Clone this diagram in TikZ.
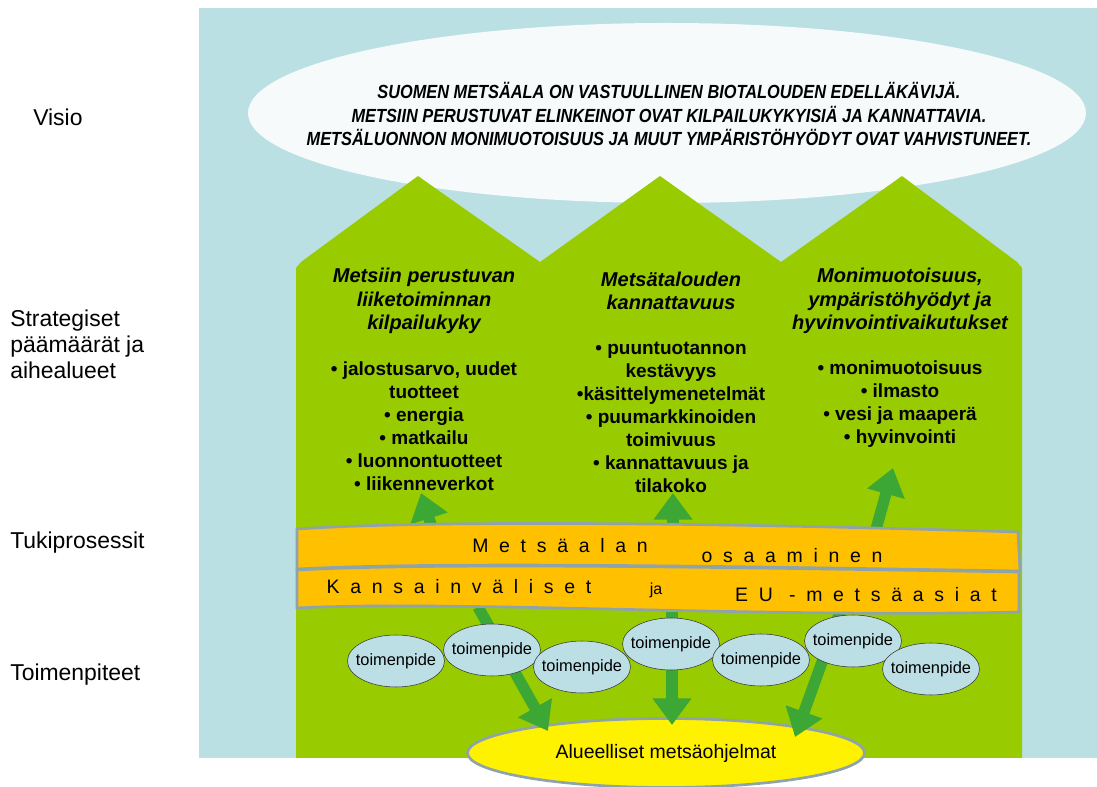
\documentclass[tikz,border=0pt]{standalone}
\usepackage{fontspec}
\setmainfont{Liberation Sans}
\newfontfamily\visiofont[FakeStretch=0.86]{Liberation Sans}
\newfontfamily\bandfont[LetterSpace=55]{Liberation Sans}
\usetikzlibrary{shapes, arrows.meta, positioning, calc}
\definecolor{skyblue}{HTML}{BAE0E4}
\definecolor{visiowhite}{HTML}{F6FAFB}
\definecolor{leafgreen}{HTML}{99CC00}
\definecolor{darkleaf}{HTML}{3DA735}
\definecolor{bandorange}{HTML}{FFC000}
\definecolor{bandedge}{HTML}{8FA3AA}
\definecolor{actblue}{HTML}{BCDFE6}

\begin{document}
\begin{tikzpicture}[x=0.75pt, y=-0.75pt]
    \tikzstyle{sidelabel} = [anchor=west, align=left, inner sep=0, font=\fontsize{17.2}{19.5}\selectfont]
    \tikzstyle{goal} = [align=center, inner sep=0, font=\fontsize{15}{17.5}\selectfont\bfseries\itshape]
    \tikzstyle{topics} = [align=center, inner sep=0, font=\fontsize{14.25}{17.25}\selectfont\bfseries]
    \tikzstyle{band} = [fill=bandorange, draw=bandedge, line width=2pt]
    \tikzstyle{bandtext} = [inner sep=0, font=\bandfont\fontsize{14.6}{17}\selectfont]
    \tikzstyle{action} = [ellipse, draw=black!80, fill=actblue, minimum width=72.75pt, minimum height=39pt, inner xsep=-4.5pt, inner ysep=0pt, font=\fontsize{12.3}{14}\selectfont]
    \tikzstyle{flow} = [draw=darkleaf, line width=8.5pt, -{Triangle[width=28pt,length=20pt]}]
    \useasboundingbox (0,0) rectangle (1097,787);
    % background and vision
    \fill[skyblue] (199,8) rectangle (1097,758);
    \fill[visiowhite] (667,113) ellipse [x radius=314.25pt, y radius=67.5pt];
    \node (visiotext) [align=center, inner sep=0, font=\visiofont\fontsize{14.25}{17.6}\selectfont\bfseries\itshape] at (669,114)
      {SUOMEN METSÄALA ON VASTUULLINEN BIOTALOUDEN EDELLÄKÄVIJÄ.\\
       METSIIN PERUSTUVAT ELINKEINOT OVAT KILPAILUKYKYISIÄ JA KANNATTAVIA.\\
       METSÄLUONNON MONIMUOTOISUUS JA MUUT YMPÄRISTÖHYÖDYT OVAT VAHVISTUNEET.};
    % three houses
    \fill[leafgreen] (296,758) -- (296,268) -- (301,262) -- (418,176) -- (540,262) -- (660,176)
      -- (781,262) -- (902,176) -- (1017,262) -- (1022,268) -- (1022,758) -- cycle;
    \node (alue) [ellipse, draw=bandedge, line width=2pt, fill=yellow, minimum width=297.75pt, minimum height=51.75pt, inner sep=0, font=\fontsize{14.6}{17}\selectfont] at (666,753) {Alueelliset metsäohjelmat};
    % arrow ends
    \coordinate (up1s) at (433,531);  \coordinate (up1e) at (421,493);
    \coordinate (up2s) at (673,531);  \coordinate (up2e) at (673,493);
    \coordinate (up3s) at (875,533);  \coordinate (up3e) at (893,468);
    \coordinate (dn1s) at (478,607);  \coordinate (dn1e) at (548,731);
    \coordinate (dn2s) at (672,612);  \coordinate (dn2e) at (672,725);
    \coordinate (dn3s) at (840,612);  \coordinate (dn3e) at (795,737);
    \draw [flow] (up1s) -- (up1e);
    \draw [flow] (up2s) -- (up2e);
    \draw [flow] (up3s) -- (up3e);
    \draw [flow] (dn1s) -- (dn1e);
    \draw [flow] (dn2s) -- (dn2e);
    \draw [flow] (dn3s) -- (dn3e);
    % support process bands
    \filldraw[band] (297,529) .. controls (450,519) and (760,524) .. (1018,532) -- (1020,571)
      .. controls (760,567) and (450,561) .. (297,569) -- cycle;
    \filldraw[band] (297,570) .. controls (450,562) and (760,568) .. (1019,572) -- (1019,612)
      .. controls (760,618) and (450,600) .. (297,608) -- cycle;
    \node (osa1) [bandtext] at (560,546) {Metsäalan};
    \node (osa2) [bandtext] at (792,556) {osaaminen};
    \node (eu1) [bandtext] at (459,587) {Kansainväliset};
    \node (eu2) [inner sep=0, font=\fontsize{12}{14}\selectfont] at (656,590) {ja};
    \node (eu3) [bandtext] at (866,595) {EU -metsäasiat};
    % goals
    \node (goal1) [goal] at (424,301) {Metsiin perustuvan\\liiketoiminnan\\kilpailukyky};
    \node (goal2) [goal] at (671,291) {Metsätalouden\\kannattavuus};
    \node (goal3) [goal] at (900,301) {Monimuotoisuus,\\ympäristöhyödyt ja\\hyvinvointivaikutukset};
    \node (list1) [topics] at (424,426) {• jalostusarvo, uudet\\tuotteet\\• energia\\• matkailu\\• luonnontuotteet\\• liikenneverkot};
    \node (list2) [topics] at (671,417) {• puuntuotannon\\kestävyys\\•käsittelymenetelmät\\• puumarkkinoiden\\toimivuus\\• kannattavuus ja\\tilakoko};
    \node (list3) [topics] at (900,404) {• monimuotoisuus\\• ilmasto\\• vesi ja maaperä\\• hyvinvointi};
    % actions
    \node (act1) [action] at (396,661) {toimenpide};
    \node (act2) [action] at (492,650) {toimenpide};
    \node (act3) [action] at (582,667) {toimenpide};
    \node (act4) [action] at (671,644) {toimenpide};
    \node (act5) [action] at (761,660) {toimenpide};
    \node (act6) [action] at (853,641) {toimenpide};
    \node (act7) [action] at (931,669) {toimenpide};
    % level labels
    \node (visio) [sidelabel] at (33,117) {Visio};
    \node (strat) [sidelabel] at (10,344) {Strategiset\\päämäärät ja\\aihealueet};
    \node (tuki) [sidelabel] at (10,543) {Tukiprosessit};
    \node (toim) [sidelabel] at (10,675) {Toimenpiteet};
\end{tikzpicture}
\end{document}
